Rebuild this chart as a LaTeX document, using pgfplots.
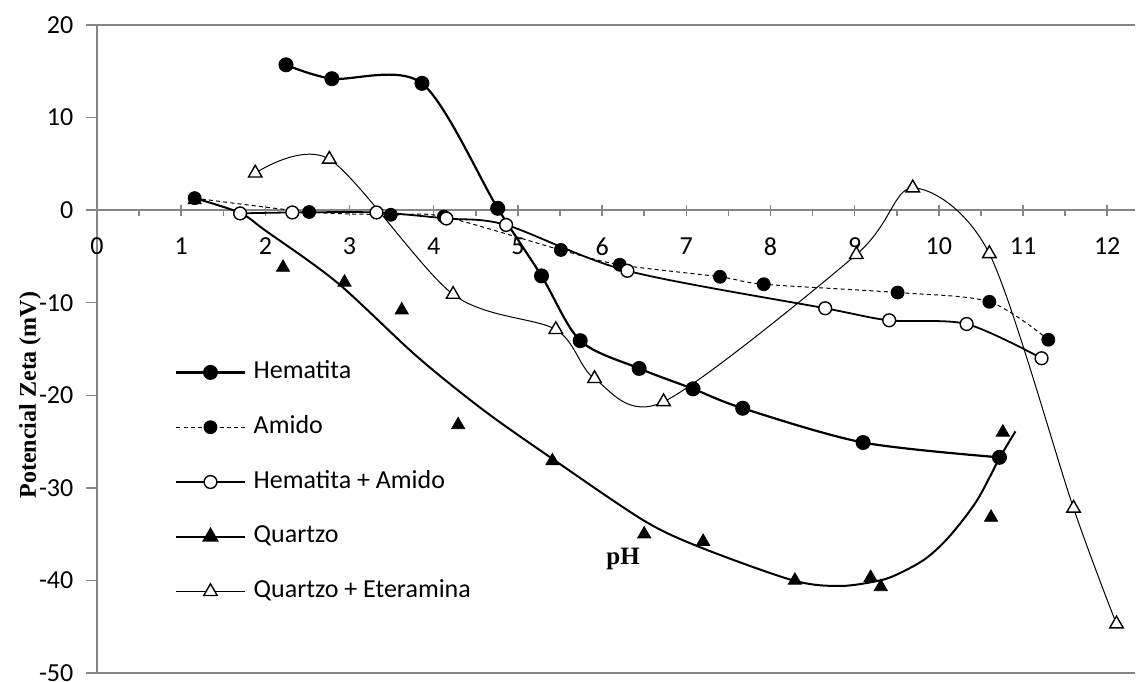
\documentclass[border=0pt]{standalone}
\usepackage{fontspec}
\setmainfont{Carlito}
\newfontfamily\tnr{Liberation Serif}
\usepackage{pgfplots}
\pgfplotsset{compat=1.18}
\definecolor{axgray}{RGB}{134,134,134}
\begin{document}
\begin{tikzpicture}
\useasboundingbox (-48.5pt,-4pt) rectangle (519.5pt,336.5pt);
\begin{axis}[
  scale only axis, width=519pt, height=324pt,
  xmin=0, xmax=12.33, ymin=-50, ymax=20,
  axis x line=middle, axis y line=left,
  axis line style={draw=axgray, line width=0.9pt, -},
  every inner x axis line/.append style={-},
  every outer y axis line/.append style={-},
  hide obscured x ticks=false,
  xtick={0,1,...,12}, ytick={-50,-40,...,20},
  minor x tick num=1,
  xtick align=center, ytick align=outside,
  major tick length=5.5pt, minor tick length=2.8pt,
  tick style={draw=axgray, line width=0.75pt},
  minor x tick style={yshift=-1.4pt},
  tick label style={font=\fontsize{13}{15}\selectfont},
  /pgf/number format/assume math mode=true,
  xticklabel style={anchor=north, yshift=-7.5pt},
  yticklabel style={anchor=east, xshift=-2.8pt},
  legend image code/.code={\draw[mark repeat=2,mark phase=2,#1] plot coordinates {(0cm,0cm) (0.6cm,0cm) (1.2cm,0cm)};},
  legend style={draw=none, fill=none, inner sep=0pt, at={(axis description cs:0.075,0.483)}, anchor=north west,
    font=\fontsize{13}{15}\selectfont, row sep=15.4pt, column sep=4pt,
    nodes={inner sep=0pt, text height=9pt, text depth=3pt}},
  legend cell align=left,
  clip=false,
]
\draw[axgray, line width=0.9pt] (rel axis cs:0,1) -- (rel axis cs:1,1);
\draw[axgray, line width=0.9pt] (rel axis cs:0,0) -- (rel axis cs:1,0);

% Hematita
\addplot[black, line width=1.1pt, smooth, mark=*, mark size=3.2pt, mark options={solid, fill=black}] coordinates {
(2.245,15.7)(2.79,14.2)(3.86,13.7)(4.76,0.2)(5.28,-7.1)(5.74,-14.1)(6.44,-17.1)(7.08,-19.3)(7.67,-21.4)(9.10,-25.1)(10.72,-26.7)};
\addlegendentry{Hematita}
% Amido
\addplot[black, line width=0.5pt, dash pattern=on 2pt off 1.6pt, smooth, mark=*, mark size=3.2pt, mark options={solid, fill=black}] coordinates {
(1.16,1.3)(2.52,-0.2)(3.49,-0.5)(4.12,-0.7)(5.51,-4.3)(6.21,-5.9)(7.40,-7.2)(7.92,-8.0)(9.51,-8.9)(10.60,-9.9)(11.30,-14.0)};
\addlegendentry{Amido}
% Hematita + Amido
\addplot[black, line width=0.9pt, smooth, mark=*, mark size=3.2pt, mark options={solid, fill=white, draw=black, line width=0.7pt}] coordinates {
(1.70,-0.35)(2.32,-0.25)(3.32,-0.25)(4.15,-0.9)(4.86,-1.6)(6.30,-6.55)(8.65,-10.6)(9.41,-11.9)(10.33,-12.3)(11.22,-16.0)};
\addlegendentry{Hematita + Amido}
\addlegendimage{black, line width=1.1pt, mark=triangle*, mark size=3.8pt, mark options={solid, fill=black}}
\addlegendentry{Quartzo}
% Quartzo + Eteramina
\addplot[black, line width=0.5pt, smooth, mark=triangle*, mark size=3.9pt, mark options={solid, fill=white, draw=black, line width=0.7pt}] coordinates {
(1.88,4.0)(2.76,5.5)(4.23,-9.1)(5.45,-12.9)(5.91,-18.2)(6.73,-20.7)(9.02,-4.8)(9.69,2.4)(10.60,-4.7)(11.60,-32.2)(12.11,-44.7)};
\addlegendentry{Quartzo + Eteramina}
% Quartzo trend line
\addplot[black, line width=1pt, smooth, no markers, forget plot] coordinates {
(1.16,1.3)(1.70,-0.3)(2.0,-2.2)(2.85,-7.8)(3.80,-15.8)(4.59,-21.6)(5.40,-26.8)(6.49,-33.5)(7.16,-36.4)(8.27,-40.0)(8.83,-40.6)(9.30,-40.0)(9.54,-39.2)(9.85,-37.6)(10.13,-35.2)(10.45,-31.4)(10.72,-26.8)(10.91,-23.9)};
% Quartzo markers
\addplot[only marks, black, mark=triangle*, mark size=3.8pt, mark options={solid, fill=black}, forget plot] coordinates {
(1.16,1.1)(2.21,-6.2)(2.94,-7.8)(3.62,-10.8)(4.29,-23.2)(5.41,-27.1)(6.50,-35.0)(7.20,-35.8)(8.29,-40.0)(9.19,-39.7)(9.31,-40.7)(10.62,-33.2)(10.76,-24.0)};

\node[font=\tnr\bfseries\fontsize{12}{14}\selectfont, rotate=90] at (axis description cs:-0.0645,0.429) {Potencial Zeta (mV)};
\node[font=\tnr\bfseries\fontsize{12.5}{14}\selectfont] at (axis cs:6.25,-37.7) {pH};
\end{axis}
\end{tikzpicture}
\end{document}
